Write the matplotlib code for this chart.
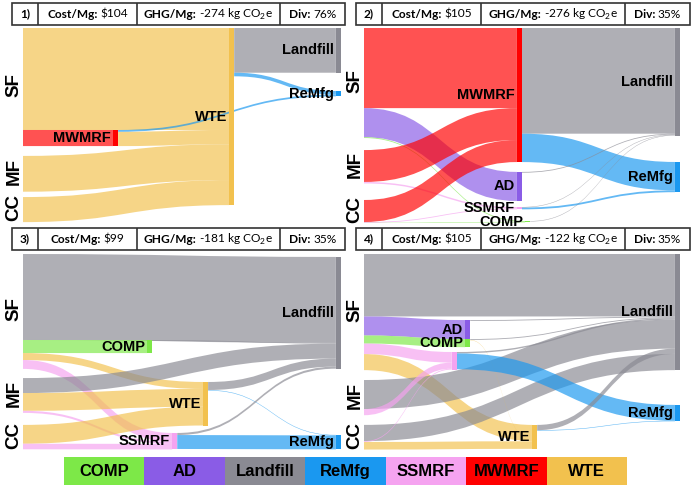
import matplotlib.pyplot as plt
from matplotlib.path import Path
from matplotlib.patches import PathPatch, Rectangle

plt.rcParams['font.family'] = ['Liberation Sans', 'DejaVu Sans']
plt.rcParams['mathtext.fontset'] = 'custom'
plt.rcParams['mathtext.rm'] = 'Lato'
plt.rcParams['mathtext.bf'] = 'Lato:bold'

W, H = 694, 490

# legend / node colours
legend_names = ['COMP', 'AD', 'Landfill', 'ReMfg', 'SSMRF', 'MWMRF', 'WTE']
legend_colors = ['#7de848', '#8a5ce6', '#8a8a93', '#1a98f0', '#f5a3f0', '#ff0000', '#f2c14e']
node_col = dict(zip(legend_names, legend_colors))
node_col.update({'SF': 'none', 'MF': 'none', 'CC': 'none'})

# header values
panel_ids = ['1)', '2)', '3)', '4)']
cost = ['$104', '$105', '$99', '$105']
ghg = ['-274', '-276', '-181', '-122']
div = ['76%', '35%', '35%', '35%']

# flows (Mg per 100 Mg collected)
p1_src = ['SF', 'SF', 'MF', 'CC', 'MWMRF', 'MWMRF', 'WTE', 'WTE']
p1_tgt = ['WTE', 'MWMRF', 'WTE', 'WTE', 'WTE', 'ReMfg', 'Landfill', 'ReMfg']
p1_val = [57, 9, 20, 14, 8, 1, 25, 2]

p2_src = ['SF', 'SF', 'SF', 'MF', 'MF', 'CC', 'CC', 'CC',
          'MWMRF', 'MWMRF', 'AD', 'SSMRF', 'SSMRF', 'COMP']
p2_tgt = ['MWMRF', 'AD', 'COMP', 'MWMRF', 'SSMRF', 'MWMRF', 'SSMRF', 'COMP',
          'Landfill', 'ReMfg', 'Landfill', 'ReMfg', 'Landfill', 'Landfill']
p2_val = [48, 17.4, 0.5, 19.1, 0.9, 13.2, 0.5, 0.3,
          63.3, 17, 0.5, 1.1, 0.3, 0.3]

p3_src = ['SF', 'SF', 'SF', 'SF', 'MF', 'MF', 'MF', 'CC', 'CC',
          'COMP', 'WTE', 'WTE', 'SSMRF', 'SSMRF']
p3_tgt = ['Landfill', 'COMP', 'WTE', 'SSMRF', 'Landfill', 'WTE', 'SSMRF', 'WTE', 'SSMRF',
          'Landfill', 'Landfill', 'ReMfg', 'Landfill', 'ReMfg']
p3_val = [49.4, 7.5, 4.0, 5.1, 8.6, 10.2, 1.2, 10.8, 3.2,
          0.4, 4.6, 0.3, 1.2, 8.0]

p4_src = ['SF', 'SF', 'SF', 'SF', 'SF', 'MF', 'MF', 'CC', 'CC', 'CC',
          'AD', 'COMP', 'COMP', 'SSMRF', 'SSMRF', 'WTE', 'WTE']
p4_tgt = ['Landfill', 'AD', 'COMP', 'SSMRF', 'WTE', 'Landfill', 'SSMRF', 'Landfill', 'SSMRF', 'WTE',
          'Landfill', 'Landfill', 'WTE', 'Landfill', 'ReMfg', 'Landfill', 'ReMfg']
p4_val = [35.5, 10.8, 4.6, 6.0, 9.1, 16.5, 3.5, 9.2, 0.5, 4.3,
          0.5, 0.5, 0.2, 0.8, 9.0, 3.0, 0.3]

# node placement (x: fraction of width, y: fraction of height for node top)
p1_x = {'SF': 0, 'MF': 0, 'CC': 0, 'MWMRF': 0.283, 'WTE': 0.648, 'Landfill': 0.984, 'ReMfg': 0.984}
p1_y = {'SF': 0, 'MF': 0.656, 'CC': 0.867, 'MWMRF': 0.523, 'WTE': 0, 'Landfill': 0, 'ReMfg': 0.323}
p2_x = {'SF': 0, 'MF': 0, 'CC': 0, 'MWMRF': 0.484, 'AD': 0.484, 'SSMRF': 0.484, 'COMP': 0.51,
        'Landfill': 0.984, 'ReMfg': 0.984}
p2_y = {'SF': 0, 'MF': 0.626, 'CC': 0.882, 'MWMRF': 0, 'AD': 0.738, 'SSMRF': 0.918, 'COMP': 0.99,
        'Landfill': 0, 'ReMfg': 0.687}
p3_x = {'SF': 0, 'MF': 0, 'CC': 0, 'COMP': 0.39, 'WTE': 0.566, 'SSMRF': 0.469,
        'Landfill': 0.984, 'ReMfg': 0.984}
p3_y = {'SF': 0, 'MF': 0.633, 'CC': 0.872, 'COMP': 0.439, 'WTE': 0.653, 'SSMRF': 0.913,
        'Landfill': 0.015, 'ReMfg': 0.923}
p4_x = {'SF': 0, 'MF': 0, 'CC': 0, 'AD': 0.32, 'COMP': 0.32, 'SSMRF': 0.278, 'WTE': 0.532,
        'Landfill': 0.984, 'ReMfg': 0.984}
p4_y = {'SF': 0, 'MF': 0.643, 'CC': 0.872, 'AD': 0.337, 'COMP': 0.434, 'SSMRF': 0.5, 'WTE': 0.872,
        'Landfill': 0, 'ReMfg': 0.77}


def band(ax, x0, x1, a0, a1, b0, b1, color):
    xm = (x0 + x1) / 2
    verts = [(x0, a0), (xm, a0), (xm, b0), (x1, b0),
             (x1, b1), (xm, b1), (xm, a1), (x0, a1), (x0, a0)]
    codes = [Path.MOVETO, Path.CURVE4, Path.CURVE4, Path.CURVE4,
             Path.LINETO, Path.CURVE4, Path.CURVE4, Path.CURVE4, Path.CLOSEPOLY]
    ax.add_patch(PathPatch(Path(verts, codes), facecolor=color, alpha=0.68,
                           edgecolor='none', lw=0))


def sankey(ax, src, tgt, val, xpos, ypos, span, hide=()):
    ax.set_xlim(0, 1)
    ax.set_ylim(span, 0)
    ax.axis('off')
    names = list(xpos)
    inflow = {n: 0 for n in names}
    outflow = {n: 0 for n in names}
    for s, t, v in zip(src, tgt, val):
        outflow[s] += v
        inflow[t] += v
    size = {n: max(inflow[n], outflow[n]) for n in names}
    top = {n: ypos[n] * span for n in names}
    center = {n: top[n] + size[n] / 2 for n in names}
    nw = 0.016
    width = {n: (0 if inflow[n] == 0 else nw) for n in names}

    idx = range(len(val))
    start, end = {}, {}
    off = dict(top)
    for i in sorted(idx, key=lambda i: center[tgt[i]]):
        start[i] = off[src[i]]
        off[src[i]] += val[i]
    off = dict(top)
    for i in sorted(idx, key=lambda i: center[src[i]]):
        end[i] = off[tgt[i]]
        off[tgt[i]] += val[i]

    for i in idx:
        s, t = src[i], tgt[i]
        band(ax, xpos[s] + width[s], xpos[t], start[i], start[i] + val[i],
             end[i], end[i] + val[i], node_col[t])

    for n in names:
        if inflow[n] == 0:
            ax.annotate(n, (0, center[n]), xytext=(-9, 2), textcoords='offset pixels',
                        rotation=90, ha='center', va='center', fontsize=13.5,
                        fontweight='bold')
            continue
        ax.add_patch(Rectangle((xpos[n], top[n]), nw, size[n], facecolor=node_col[n],
                               edgecolor='none'))
        if n not in hide:
            ax.annotate(n, (xpos[n], center[n]), xytext=(-2, 0), textcoords='offset pixels',
                        ha='right', va='center', fontsize=10.5, fontweight='bold')


def pair(ax, cx, bold, normal, r, ppu, size=8.6):
    kw = dict(ha='left', va='center', fontsize=size, family='Lato')
    tb = ax.text(cx, 0.5, bold, fontweight='bold', **kw)
    tn = ax.text(cx, 0.5, normal, **kw)
    wb = tb.get_window_extent(r).width
    wn = tn.get_window_extent(r).width
    gap = 3.0
    x0 = cx - (wb + gap + wn) / 2 / ppu
    tb.set_x(x0)
    tn.set_x(x0 + (wb + gap) / ppu)


def header(rect, i):
    ax = fig.add_axes(rect)
    ax.set_xlim(0, 333)
    ax.set_ylim(0, 1)
    ax.axis('off')
    ax.add_patch(Rectangle((0, 0), 333, 1, facecolor='none', edgecolor='#333333', lw=1.2,
                           clip_on=False))
    for xd in [26, 125, 268]:
        ax.plot([xd, xd], [0, 1], color='#333333', lw=1.2)
    r = fig.canvas.get_renderer()
    ppu = ax.get_window_extent(r).width / 333
    ax.text(13, 0.5, panel_ids[i], fontweight='bold', ha='center', va='center',
            fontsize=8.6, family='Lato')
    pair(ax, 75.5, 'Cost/Mg:', cost[i], r, ppu)
    pair(ax, 196.5, 'GHG/Mg:', '%s kg CO$_2$e' % ghg[i], r, ppu)
    pair(ax, 300.5, 'Div:', div[i], r, ppu)


def px(l, t, r, b):
    return [l / W, 1 - b / H, (r - l) / W, (b - t) / H]


fig = plt.figure(figsize=(6.94, 4.9), dpi=100)

panels = [
    (p1_src, p1_tgt, p1_val, p1_x, p1_y, 109.0, (23, 28, 341, 223), ()),
    (p2_src, p2_tgt, p2_val, p2_x, p2_y, 116.8, (364, 28, 680, 223), ()),
    (p3_src, p3_tgt, p3_val, p3_x, p3_y, 112.6, (23, 254, 341, 450), ()),
    (p4_src, p4_tgt, p4_val, p4_x, p4_y, 111.4, (364, 254, 680, 450), ('SSMRF',)),
]
headers = [(12, 3, 345, 25), (356, 3, 690, 25), (12, 228, 345, 250), (356, 228, 690, 250)]

for i, (s, t, v, xp, yp, span, box, hide) in enumerate(panels):
    ax = fig.add_axes(px(*box))
    sankey(ax, s, t, v, xp, yp, span, hide)
    header(px(*headers[i]), i)

# colour legend
lax = fig.add_axes(px(64, 457, 627, 485))
lax.bar(range(len(legend_names)), [1] * len(legend_names), width=1.0, color=legend_colors)
for k, name in enumerate(legend_names):
    lax.text(k, 0.5, name, ha='center', va='center', fontsize=12, fontweight='bold')
lax.set_xlim(-0.5, len(legend_names) - 0.5)
lax.set_ylim(0, 1)
lax.axis('off')

fig.savefig('out.png', dpi=100)
